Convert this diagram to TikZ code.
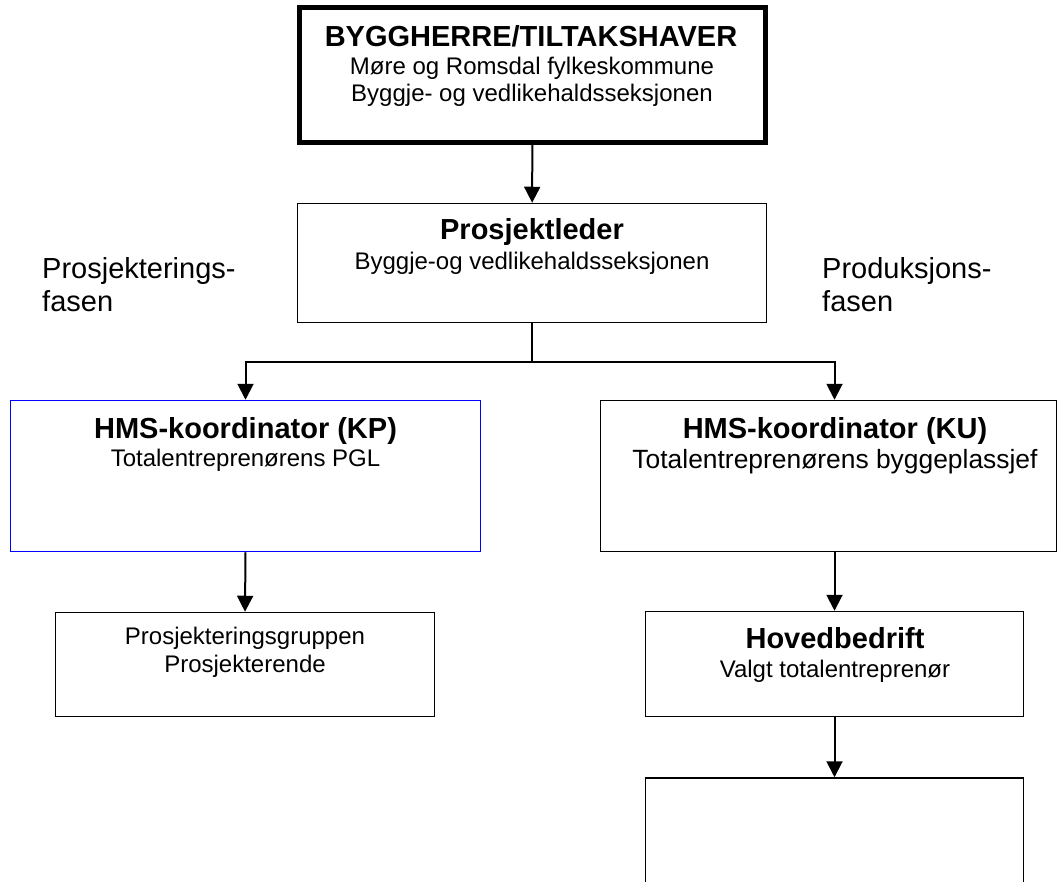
\documentclass[tikz,border=0pt]{standalone}
\usepackage{fontspec}
\setmainfont{Liberation Sans}
\usetikzlibrary{arrows.meta}

\tikzset{
	box/.style={draw,rectangle,inner sep=0pt,line width=1.5pt},
	head/.style={inner sep=0pt,anchor=base,font=\fontsize{29}{33}\selectfont\bfseries},
	sub/.style={inner sep=0pt,anchor=base,align=center,font=\fontsize{24}{27.6}\selectfont},
	fase/.style={inner sep=0pt,anchor=base west,align=left,font=\fontsize{29}{33}\selectfont},
	conn/.style={line width=2pt,-{Triangle[length=16pt,width=16pt]}}
}

\begin{document}
\begin{tikzpicture}[x=1pt,y=-1pt]
	\useasboundingbox (0,0) rectangle (1059,882);
	\clip (0,0) rectangle (1059,882);
	% boxes
	\node (top) [box,line width=4.5pt,minimum width=466pt,minimum height=135pt] at (532.5,75) {};
	\node (pl) [box,minimum width=469pt,minimum height=119pt] at (532,263) {};
	\node (kp) [box,draw=blue,minimum width=470pt,minimum height=151pt] at (245.5,476) {};
	\node (ku) [box,minimum width=456pt,minimum height=151pt] at (828.5,476) {};
	\node (grp) [box,minimum width=379pt,minimum height=104pt] at (245,664.5) {};
	\node (hb) [box,minimum width=378pt,minimum height=105pt] at (834.5,664) {};
	\node (tom) [box,minimum width=378pt,minimum height=122pt] at (834.5,839) {};
	% texts (base of a multi-line node is its last line)
	\node (toph) [head] at (531,47) {BYGGHERRE/TILTAKSHAVER};
	\node (tops) [sub] at (532,102) {Møre og Romsdal fylkeskommune\\Byggje- og vedlikehaldsseksjonen};
	\node (plh) [head] at (532,240) {Prosjektleder};
	\node (pls) [sub] at (532,270) {Byggje-og vedlikehaldsseksjonen};
	\node (kph) [head] at (245.5,438) {HMS-koordinator (KP)};
	\node (kps) [sub] at (245.5,466) {Totalentreprenørens PGL};
	\node (kuh) [head] at (835,438) {HMS-koordinator (KU)};
	\node (kus) [sub,font=\fontsize{26.4}{30}\selectfont] at (835,468) {Totalentreprenørens byggeplassjef};
	\node (grps) [sub] at (245,672) {Prosjekteringsgruppen\\Prosjekterende};
	\node (hbh) [head] at (835,648) {Hovedbedrift};
	\node (hbs) [sub] at (835,677) {Valgt totalentreprenør};
	\node (pfase) [fase] at (42,312) {Prosjekterings-\\fasen};
	\node (dfase) [fase] at (822,312) {Produksjons-\\fasen};
	% connectors
	\coordinate (split) at (532,362);
	\draw [conn] (top) -- (pl);
	\draw [line width=2pt] (pl.south) -- (split);
	\draw [conn] (split) -| (kp.north);
	\draw [conn] (split) -| (hb.north |- ku.north);
	\draw [conn] (kp.south) -- (grp.north);
	\draw [conn] (hb.north |- ku.south) -- (hb.north);
	\draw [conn] (hb) -- (tom);
\end{tikzpicture}
\end{document}
